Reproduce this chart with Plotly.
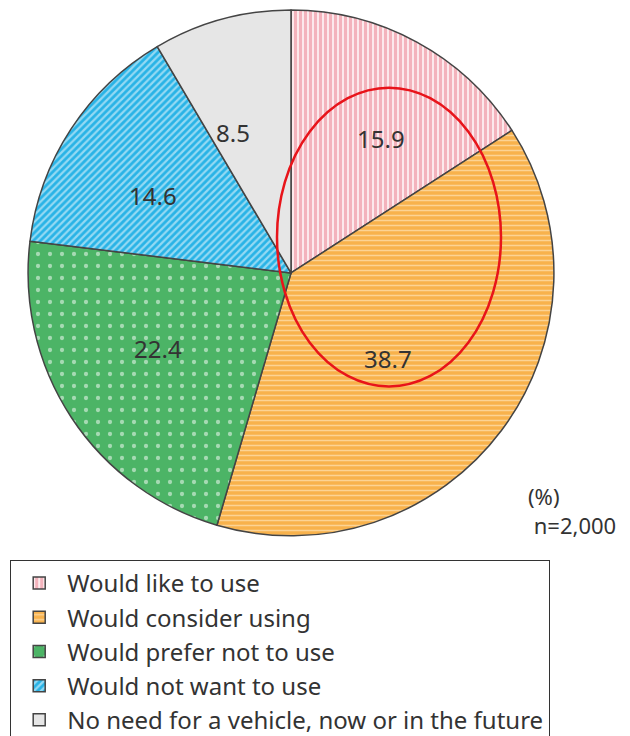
import math
import plotly.graph_objects as go

categories = [
    "Would like to use",
    "Would consider using",
    "Would prefer not to use",
    "Would not want to use",
    "No need for a vehicle, now or in the future",
]
values = [15.9, 38.7, 22.4, 14.6, 8.5]
value_labels = ["15.9", "38.7", "22.4", "14.6", "8.5"]

# page is rendered with an 8px body margin; positions below are in page px minus that offset
OFF = 8
W, H = 630, 736
cx, cy, r = 291 - OFF, 274 - OFF, 264

bg_colors = ["#ffffff", "#f8b24c", "#4cb466", "#29b3e6", "#e6e6e6"]
fg_colors = ["#e8677a", "#fff3dc", "#ffffff", "#ffffff", "#e6e6e6"]
shapes = ["|", "-", ".", "/", ""]
sizes = [5, 5, 12, 5, 8]
solids = [0.72, 0.3, 0.1, 0.45, 0.3]
# label placement style: fraction of radius and small angular nudge (degrees)
label_radius = [0.615, 0.49, 0.58, 0.6, 0.578]
label_nudge = [5.0, 4.8, 3.7, -3.7, -7.0]

fig = go.Figure()
fig.add_trace(go.Pie(
    labels=categories,
    values=values,
    textinfo="none",
    sort=False,
    direction="clockwise",
    rotation=0,
    hole=0,
    marker=dict(
        colors=bg_colors,
        line=dict(color="#444444", width=1.5),
        pattern=dict(shape=shapes, fgcolor=fg_colors, bgcolor=bg_colors,
                     size=sizes, solidity=solids, fillmode="overlay"),
    ),
    domain=dict(x=[(cx - r) / W, (cx + r) / W], y=[1 - (cy + r) / H, 1 - (cy - r) / H]),
    showlegend=True,
    hoverinfo="label+value",
))

# value labels placed near each slice's mid-angle (computed from the data)
total = sum(values)
cum = 0.0
for v, txt, fr, nd in zip(values, value_labels, label_radius, label_nudge):
    mid = (cum + v / 2) / total * 2 * math.pi + math.radians(nd)
    cum += v
    px = cx + fr * r * math.sin(mid)
    py = cy - fr * r * math.cos(mid)
    fig.add_annotation(xref="paper", yref="paper", x=px / W, y=1 - py / H,
                       text=txt, showarrow=False, xanchor="center", yanchor="middle",
                       font=dict(family="Noto Sans", size=24, color="#333333"))

fig.add_shape(type="circle", xref="paper", yref="paper",
              x0=(277 - OFF) / W, x1=(501 - OFF) / W,
              y0=1 - (388 - OFF) / H, y1=1 - (88 - OFF) / H,
              line=dict(color="#e8141a", width=2.5))

fig.add_annotation(xref="paper", yref="paper", x=(526 - OFF) / W, y=1 - (513 - OFF) / H,
                   text="(%)<br>&#160;n=2,000", showarrow=False, xanchor="left",
                   yanchor="middle", align="left",
                   font=dict(family="Noto Sans", size=22, color="#333333"))

fig.update_layout(
    width=W, height=H,
    margin=dict(l=0, r=0, t=0, b=0),
    paper_bgcolor="white",
    plot_bgcolor="white",
    legend=dict(
        x=(10 - OFF) / W, y=1 - (562 - OFF) / H, xanchor="left", yanchor="top",
        bordercolor="#333333", borderwidth=1.2, bgcolor="white",
        font=dict(family="Noto Sans", size=24, color="#333333"),
        traceorder="normal",
        itemwidth=46,
    ),
)

fig.write_html("out.html")
